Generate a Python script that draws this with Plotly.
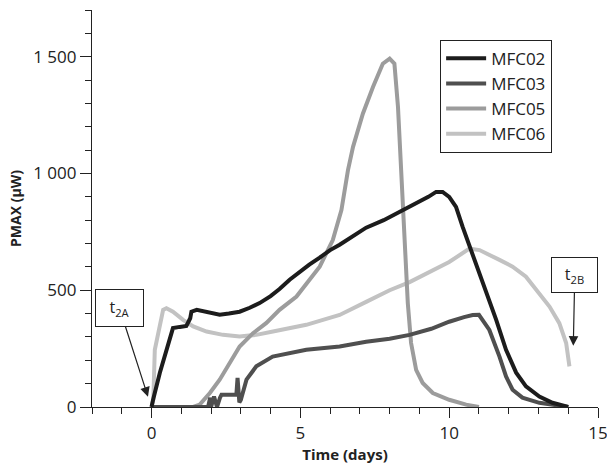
import plotly.graph_objects as go

# ---- data ----
mfc02_t = [0.0, 0.05, 0.28, 0.5, 0.72, 0.95, 1.17, 1.3, 1.34, 1.52, 1.9, 2.29, 2.6, 2.96, 3.3, 3.63, 4.0, 4.3, 4.64, 4.98,
           5.3, 5.65, 6.0, 6.32, 6.8, 7.21, 7.8, 8.33, 8.89, 9.3, 9.56, 9.78, 10.0, 10.23, 10.45, 10.57, 10.9, 11.24,
           11.58, 11.91, 12.25, 12.58, 13.03, 13.47, 13.93, 14.0]
mfc02_p = [0, 30, 147, 250, 338, 343, 347, 380, 408, 416, 405, 395, 400, 408, 425, 445, 475, 505, 545, 580,
           610, 640, 672, 695, 735, 768, 800, 835, 870, 900, 921, 921, 900, 857, 772, 729, 616, 501,
           373, 245, 147, 88, 45, 18, 3, 0]

mfc03_t = [0.0, 1.9, 1.97, 2.0, 2.1, 2.2, 2.3, 2.35, 2.85, 2.89, 2.95, 3.0, 3.19, 3.52, 4.07, 4.64, 5.2, 6.32, 7.21,
           8.0, 8.67, 9.4, 10.0, 10.5, 10.79, 11.0, 11.12, 11.35, 11.69, 11.91, 12.13, 12.46, 13.03, 13.7, 14.0]
mfc03_p = [0, 0, 40, 0, 45, 0, 40, 52, 52, 125, 20, 30, 117, 174, 216, 232, 245, 259, 279,
           292, 309, 335, 365, 385, 394, 395, 373, 330, 216, 131, 74, 40, 18, 5, 0]

mfc05_t = [0.0, 1.4, 1.62, 1.96, 2.29, 2.63, 2.96, 3.41, 3.86, 4.3, 4.87, 5.65, 6.09, 6.38, 6.6, 6.77, 7.1, 7.44, 7.77,
           8.0, 8.16, 8.28, 8.39, 8.44, 8.5, 8.61, 8.72, 8.89, 9.11, 9.45, 10.0, 10.57, 11.0]
mfc05_p = [0, 0, 10, 60, 117, 189, 259, 316, 360, 416, 473, 601, 715, 843, 1014, 1114, 1256, 1370, 1470,
           1492, 1470, 1285, 1000, 800, 729, 445, 274, 159, 103, 60, 31, 10, 0]

mfc06_t = [0.0, 0.06, 0.11, 0.21, 0.39, 0.5, 0.72, 1.06, 1.4, 1.85, 2.4, 2.96, 3.52, 4.08, 4.64, 5.2, 5.76, 6.32,
           7.21, 8.0, 8.67, 9.4, 10.0, 10.68, 11.02, 11.69, 12.13, 12.58, 13.03, 13.37, 13.7, 13.93, 14.04]
mfc06_p = [0, 31, 245, 302, 416, 423, 408, 373, 345, 323, 309, 302, 309, 323, 338, 352, 373, 394,
           450, 500, 535, 580, 621, 678, 672, 630, 601, 558, 487, 430, 359, 274, 174]

series_names = ["MFC02", "MFC03", "MFC05", "MFC06"]
series_colors = ["#1c1c1c", "#4f4f4f", "#9c9c9c", "#c2c2c2"]

y_tickvals = [0, 500, 1000, 1500]
y_ticktext = ["0", "500", "1 000", "1 500"]
x_tickvals = [0, 5, 10, 15]
x_ticktext = ["0", "5", "10", "15"]

FONT = "Open Sans, Noto Sans, sans-serif"

fig = go.Figure()
data = {
    "MFC02": (mfc02_t, mfc02_p),
    "MFC03": (mfc03_t, mfc03_p),
    "MFC05": (mfc05_t, mfc05_p),
    "MFC06": (mfc06_t, mfc06_p),
}
draw_order = ["MFC06", "MFC05", "MFC03", "MFC02"]
for name in draw_order:
    i = series_names.index(name)
    t, p = data[name]
    fig.add_trace(go.Scatter(
        x=t, y=p, mode="lines", name=name,
        line=dict(color=series_colors[i], width=4),
        legendrank=i + 1,
        cliponaxis=False,
    ))

fig.update_layout(
    width=607, height=464,
    margin=dict(l=92, r=9, t=10, b=57),
    paper_bgcolor="white", plot_bgcolor="white",
    font=dict(family=FONT, size=16, color="#222"),
    showlegend=True,
    legend=dict(
        x=0.688, y=0.925, xanchor="left", yanchor="top",
        bordercolor="#222", borderwidth=1, bgcolor="white",
        font=dict(size=17, color="#222"),
        tracegroupgap=0, itemwidth=40,
    ),
    xaxis=dict(
        range=[-2, 15], showgrid=False, zeroline=False, automargin=False,
        showline=True, linecolor="#222", linewidth=1.2,
        ticks="outside", ticklen=10, tickcolor="#222",
        tickvals=x_tickvals, ticktext=x_ticktext,
        tickfont=dict(size=17, family=FONT), ticklabeloverflow="allow",
        minor=dict(dtick=1, tick0=0, ticks="outside", ticklen=6, tickcolor="#222"),
        title=dict(text="<b>Time (days)</b>", font=dict(size=15, color="#222"), standoff=2),
    ),
    yaxis=dict(
        range=[0, 1700], showgrid=False, zeroline=False, automargin=False,
        showline=True, linecolor="#222", linewidth=1.2,
        ticks="outside", ticklen=11, tickcolor="#222",
        tickvals=y_tickvals, ticktext=y_ticktext,
        tickfont=dict(size=17, family=FONT),
        minor=dict(dtick=100, tick0=0, ticks="outside", ticklen=6, tickcolor="#222"),
        title=dict(text="<b>PMAX (µW)</b>", font=dict(size=14, color="#222"), standoff=8),
    ),
)

# labelled arrows: box at the tail, arrow to the tip
fig.add_annotation(x=-0.12, y=44, ax=-1.08, ay=425, axref="x", ayref="y", xref="x", yref="y",
                   text="t<sub>2A</sub>", showarrow=True, arrowhead=2, arrowsize=1.6, arrowwidth=1.2,
                   arrowcolor="#222", width=45, height=34, bordercolor="#222", borderwidth=1,
                   bgcolor="white", font=dict(size=16, color="#222"))
fig.add_annotation(x=14.17, y=262, ax=14.22, ay=565, axref="x", ayref="y", xref="x", yref="y",
                   text="t<sub>2B</sub>", showarrow=True, arrowhead=2, arrowsize=1.6, arrowwidth=1.2,
                   arrowcolor="#222", width=43, height=32, bordercolor="#222", borderwidth=1,
                   bgcolor="white", font=dict(size=16, color="#222"))

fig.write_html("out.html", config={"displayModeBar": False},
               post_script="document.body.style.margin='0';")
